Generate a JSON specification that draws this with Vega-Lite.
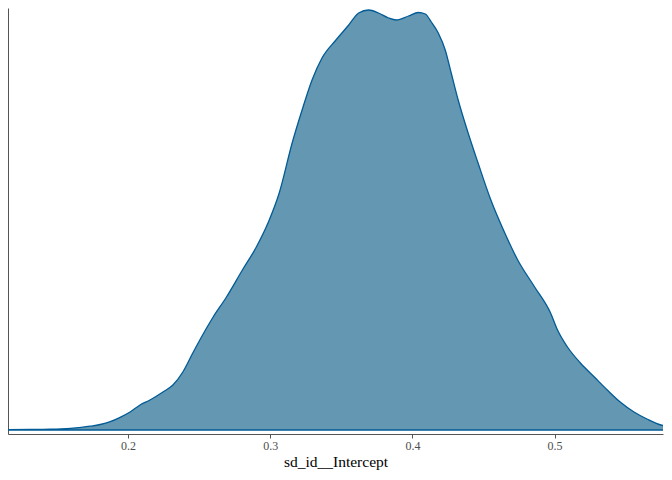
{
  "$schema": "https://vega.github.io/schema/vega-lite/v6.json",
  "width": 655,
  "height": 426,
  "autosize": "none",
  "padding": {"left": 8, "top": 8, "right": 9, "bottom": 46},
  "background": "white",
  "config": {
    "view": {"stroke": null},
    "font": "Liberation Serif"
  },
  "data": {
    "values": [
      {"x": 0.1150, "density": 0.008},
      {"x": 0.1315, "density": 0.010},
      {"x": 0.1455, "density": 0.016},
      {"x": 0.1594, "density": 0.034},
      {"x": 0.1734, "density": 0.076},
      {"x": 0.1804, "density": 0.110},
      {"x": 0.1874, "density": 0.166},
      {"x": 0.1944, "density": 0.254},
      {"x": 0.2014, "density": 0.360},
      {"x": 0.2084, "density": 0.500},
      {"x": 0.2154, "density": 0.600},
      {"x": 0.2245, "density": 0.760},
      {"x": 0.2315, "density": 0.900},
      {"x": 0.2385, "density": 1.160},
      {"x": 0.2455, "density": 1.540},
      {"x": 0.2524, "density": 1.900},
      {"x": 0.2594, "density": 2.240},
      {"x": 0.2692, "density": 2.660},
      {"x": 0.2804, "density": 3.200},
      {"x": 0.2902, "density": 3.660},
      {"x": 0.2993, "density": 4.200},
      {"x": 0.3063, "density": 4.740},
      {"x": 0.3154, "density": 5.740},
      {"x": 0.3224, "density": 6.400},
      {"x": 0.3294, "density": 7.000},
      {"x": 0.3364, "density": 7.440},
      {"x": 0.3462, "density": 7.800},
      {"x": 0.3552, "density": 8.100},
      {"x": 0.3622, "density": 8.340},
      {"x": 0.3692, "density": 8.400},
      {"x": 0.3762, "density": 8.340},
      {"x": 0.3832, "density": 8.240},
      {"x": 0.3888, "density": 8.200},
      {"x": 0.3972, "density": 8.280},
      {"x": 0.4042, "density": 8.350},
      {"x": 0.4091, "density": 8.320},
      {"x": 0.4133, "density": 8.160},
      {"x": 0.4182, "density": 7.940},
      {"x": 0.4231, "density": 7.600},
      {"x": 0.4273, "density": 7.140},
      {"x": 0.4322, "density": 6.600},
      {"x": 0.4392, "density": 5.940},
      {"x": 0.4462, "density": 5.340},
      {"x": 0.4552, "density": 4.600},
      {"x": 0.4650, "density": 3.940},
      {"x": 0.4741, "density": 3.400},
      {"x": 0.4860, "density": 2.860},
      {"x": 0.4972, "density": 2.340},
      {"x": 0.5021, "density": 2.000},
      {"x": 0.5091, "density": 1.660},
      {"x": 0.5182, "density": 1.340},
      {"x": 0.5280, "density": 1.060},
      {"x": 0.5371, "density": 0.800},
      {"x": 0.5462, "density": 0.560},
      {"x": 0.5559, "density": 0.360},
      {"x": 0.5650, "density": 0.220},
      {"x": 0.5748, "density": 0.100},
      {"x": 0.5800, "density": 0.070}
    ]
  },
  "mark": {
    "type": "area",
    "clip": true,
    "interpolate": "monotone",
    "fill": "#6497b1",
    "stroke": "#005b96",
    "strokeWidth": 1.3
  },
  "encoding": {
    "x": {
      "field": "x",
      "type": "quantitative",
      "title": "sd_id__Intercept",
      "scale": {"domain": [0.1155, 0.5763], "nice": false, "zero": false},
      "axis": {
        "values": [0.2, 0.3, 0.4, 0.5],
        "format": ".1f",
        "grid": false,
        "domainColor": "#555555",
        "domainWidth": 1,
        "tickColor": "#555555",
        "tickSize": 4,
        "labelFont": "Liberation Serif",
        "labelFontSize": 12,
        "labelColor": "#4d4d4d",
        "labelPadding": 2,
        "titleFont": "Liberation Serif",
        "titleFontSize": 15.5,
        "titleFontWeight": "normal",
        "titleColor": "black",
        "titlePadding": 3
      }
    },
    "y": {
      "field": "density",
      "type": "quantitative",
      "scale": {"domain": [-0.08, 8.44], "nice": false, "zero": false},
      "axis": {
        "title": null,
        "labels": false,
        "ticks": false,
        "grid": false,
        "domainColor": "#555555",
        "domainWidth": 1
      }
    }
  }
}
